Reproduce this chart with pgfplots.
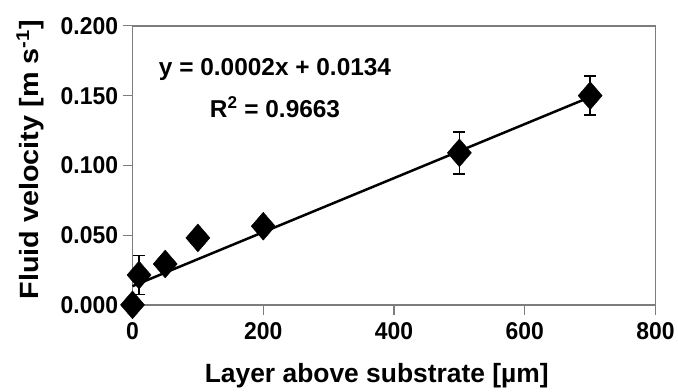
\documentclass[border=0pt]{standalone}
\usepackage{pgfplots}
\pgfplotsset{compat=1.18}
\usepackage{fontspec}
\setmainfont{Liberation Sans}
\definecolor{axgray}{RGB}{125,125,125}
\begin{document}
\begin{tikzpicture}
\begin{axis}[
  at={(0,0)}, anchor=south west,
  scale only axis, width=525pt, height=280pt,
  xmin=0, xmax=800, ymin=0, ymax=0.2,
  xtick={0,200,400,600,800},
  ytick={0,0.05,0.1,0.15,0.2},
  scaled y ticks=false,
  yticklabel style={/pgf/number format/fixed, /pgf/number format/fixed zerofill, /pgf/number format/precision=3, xshift=-1pt},
  /pgf/number format/assume math mode=true,
  tick label style={font=\fontsize{23}{25}\selectfont\bfseries, yscale=1.06},
  xticklabel style={yshift=-4pt},
  tick align=outside, tickpos=left,
  major tick length=10pt,
  every tick/.style={axgray, line width=1.2pt},
  axis line style={axgray, line width=1.5pt},
  xlabel={Layer above substrate [µm]},
  ylabel={Fluid velocity [m s\textsuperscript{-1}]},
  xlabel style={font=\fontsize{26.5}{28}\selectfont\bfseries, at={(axis description cs:0.467,-0.254)}, anchor=center},
  ylabel style={font=\fontsize{26.5}{28}\selectfont\bfseries, at={(axis description cs:-0.196,0.52)}, anchor=center, rotate=0, xscale=1.09},
  clip=false,
]
\addplot[black, line width=2.5pt, no marks] coordinates {(0,0.0134) (700,0.149)};
\addplot[only marks, mark=diamond*, mark size=14pt, black,
  mark options={xscale=1.15},
  error bars/.cd, y dir=both, y explicit,
  error bar style={line width=1.6pt, black},
  error mark options={rotate=90, mark size=6pt, line width=1.6pt, black}]
  coordinates {
  (0,0.000) +- (0,0.002)
  (10,0.0214) +- (0,0.014)
  (50,0.0293) +- (0,0.003)
  (100,0.048) +- (0,0.002)
  (200,0.0564) +- (0,0.003)
  (500,0.109) +- (0,0.015)
  (700,0.150) +- (0,0.014)
};
\node[font=\fontsize{24.5}{26}\selectfont\bfseries, align=center] at (axis cs:218,0.1686) {y = 0.0002x + 0.0134};
\node[font=\fontsize{24.5}{26}\selectfont\bfseries, align=center] at (axis cs:218,0.142) {R\textsuperscript{2} = 0.9663};
\end{axis}
\path[use as bounding box] (-133pt,-86pt) rectangle (545pt,306pt);
\end{tikzpicture}
\end{document}
